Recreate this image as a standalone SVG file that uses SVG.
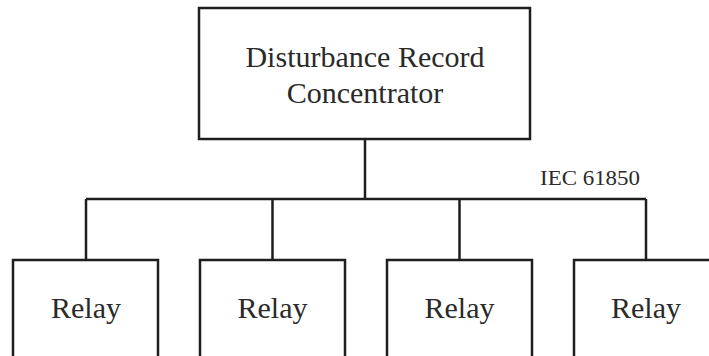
<svg xmlns="http://www.w3.org/2000/svg" width="709" height="356" viewBox="0 0 709 356">
<style>
.box{fill:#fff;stroke:#1e1e1e;stroke-width:2.5}
.ln{fill:none;stroke:#1e1e1e;stroke-width:2.5}
text{font-family:"Liberation Serif","Times New Roman",serif;fill:#2a2a2a;text-anchor:middle}
.big{font-size:30px}
.lbl{font-size:22px}
</style>
<rect width="709" height="356" fill="#fff"/>
<g id="connectors">
<path class="ln" d="M365 139V199M86 199H646M86 199V260M272.5 199V260M459.5 199V260M646 199V260"/>
</g>
<text class="lbl" x="590" y="185" textLength="100" lengthAdjust="spacingAndGlyphs">IEC 61850</text>
<g id="concentrator">
<rect class="box" x="199" y="8" width="331" height="131"/>
<text class="big" x="365" y="67">Disturbance Record</text>
<text class="big" x="365" y="103">Concentrator</text>
</g>
<g id="relay1">
<rect class="box" x="13" y="260" width="145" height="110"/>
<text class="big" x="86" y="318">Relay</text>
</g>
<g id="relay2">
<rect class="box" x="200" y="260" width="145" height="110"/>
<text class="big" x="272.5" y="318">Relay</text>
</g>
<g id="relay3">
<rect class="box" x="387" y="260" width="145" height="110"/>
<text class="big" x="459.5" y="318">Relay</text>
</g>
<g id="relay4">
<rect class="box" x="574" y="260" width="145" height="110"/>
<text class="big" x="646" y="318">Relay</text>
</g>
</svg>
